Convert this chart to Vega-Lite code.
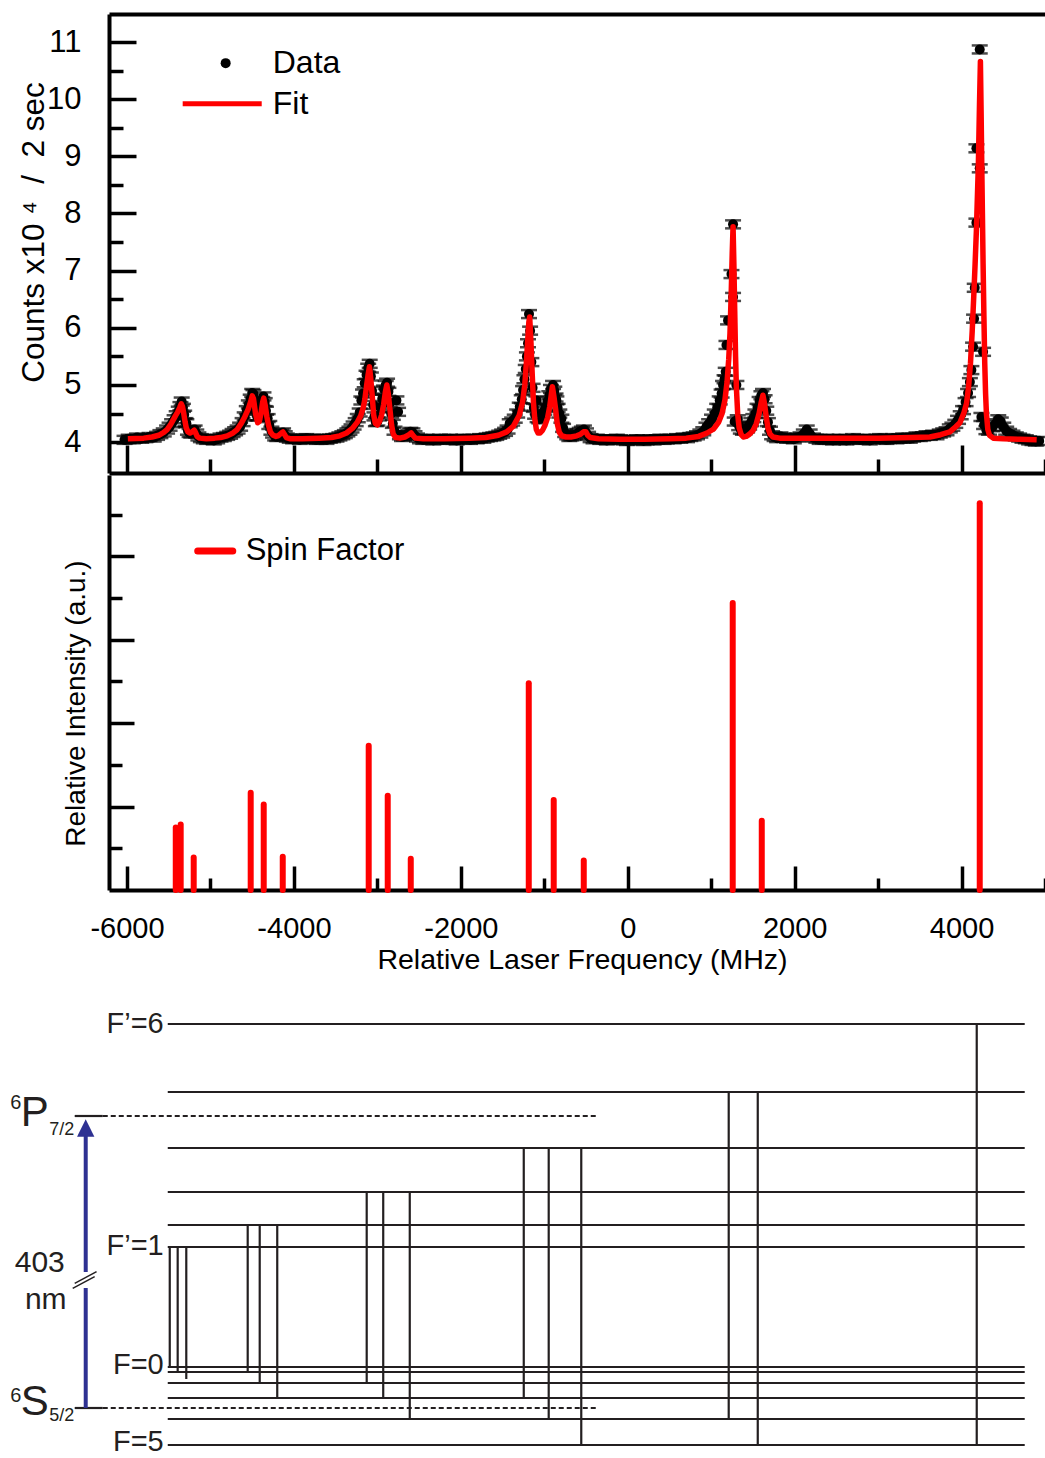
{
"$schema": "https://vega.github.io/schema/vega-lite/v6.json",
"padding": {"left": 10, "top": 14, "right": 0, "bottom": 0},
"config": {"font": "Liberation Sans", "view": {"stroke": null}, "axis": {"domainColor": "black", "tickColor": "black", "labelColor": "black", "titleColor": "black", "grid": false, "titleFontWeight": "normal", "labelFont": "Liberation Sans", "titleFont": "Liberation Sans"}},
"datasets": {
"pts": [
{"x":-6030,"y":4.04,"e":0.07},{"x":-5980,"y":4.06,"e":0.07},{"x":-5930,"y":4.05,"e":0.07},{"x":-5880,"y":4.08,"e":0.07},{"x":-5830,"y":4.06,"e":0.07},{"x":-5780,"y":4.07,"e":0.07},{"x":-5730,"y":4.09,"e":0.07},{"x":-5680,"y":4.08,"e":0.07},{"x":-5640,"y":4.11,"e":0.07},{"x":-5600,"y":4.14,"e":0.07},{"x":-5560,"y":4.17,"e":0.07},{"x":-5520,"y":4.22,"e":0.07},{"x":-5490,"y":4.27,"e":0.07},{"x":-5460,"y":4.33,"e":0.07},{"x":-5430,"y":4.4,"e":0.07},{"x":-5405,"y":4.47,"e":0.07},{"x":-5380,"y":4.55,"e":0.07},{"x":-5360,"y":4.63,"e":0.07},{"x":-5345,"y":4.71,"e":0.07},{"x":-5330,"y":4.6,"e":0.07},{"x":-5315,"y":4.48,"e":0.07},{"x":-5300,"y":4.35,"e":0.07},{"x":-5289,"y":4.33,"e":0.07},{"x":-5270,"y":4.2,"e":0.07},{"x":-5250,"y":4.16,"e":0.07},{"x":-5230,"y":4.15,"e":0.07},{"x":-5210,"y":4.2,"e":0.07},{"x":-5190,"y":4.22,"e":0.07},{"x":-5170,"y":4.15,"e":0.07},{"x":-5145,"y":4.1,"e":0.07},{"x":-5115,"y":4.07,"e":0.07},{"x":-5080,"y":4.05,"e":0.07},{"x":-5040,"y":4.04,"e":0.07},{"x":-5000,"y":4.06,"e":0.07},{"x":-4960,"y":4.03,"e":0.07},{"x":-4920,"y":4.05,"e":0.07},{"x":-4880,"y":4.08,"e":0.07},{"x":-4840,"y":4.09,"e":0.07},{"x":-4800,"y":4.11,"e":0.07},{"x":-4765,"y":4.13,"e":0.07},{"x":-4735,"y":4.16,"e":0.07},{"x":-4705,"y":4.19,"e":0.07},{"x":-4675,"y":4.22,"e":0.07},{"x":-4645,"y":4.27,"e":0.07},{"x":-4615,"y":4.35,"e":0.07},{"x":-4590,"y":4.45,"e":0.07},{"x":-4565,"y":4.56,"e":0.07},{"x":-4540,"y":4.66,"e":0.07},{"x":-4518,"y":4.76,"e":0.07},{"x":-4500,"y":4.86,"e":0.07},{"x":-4485,"y":4.84,"e":0.07},{"x":-4470,"y":4.7,"e":0.07},{"x":-4455,"y":4.55,"e":0.07},{"x":-4440,"y":4.45,"e":0.07},{"x":-4425,"y":4.45,"e":0.07},{"x":-4410,"y":4.52,"e":0.07},{"x":-4395,"y":4.62,"e":0.07},{"x":-4380,"y":4.72,"e":0.07},{"x":-4365,"y":4.8,"e":0.07},{"x":-4350,"y":4.7,"e":0.07},{"x":-4335,"y":4.55,"e":0.07},{"x":-4315,"y":4.42,"e":0.07},{"x":-4295,"y":4.3,"e":0.07},{"x":-4270,"y":4.2,"e":0.07},{"x":-4250,"y":4.15,"e":0.07},{"x":-4225,"y":4.1,"e":0.07},{"x":-4200,"y":4.09,"e":0.07},{"x":-4175,"y":4.11,"e":0.07},{"x":-4150,"y":4.15,"e":0.07},{"x":-4130,"y":4.17,"e":0.07},{"x":-4110,"y":4.12,"e":0.07},{"x":-4085,"y":4.08,"e":0.07},{"x":-4050,"y":4.06,"e":0.07},{"x":-4010,"y":4.05,"e":0.07},{"x":-3970,"y":4.06,"e":0.07},{"x":-3930,"y":4.04,"e":0.07},{"x":-3890,"y":4.06,"e":0.07},{"x":-3850,"y":4.07,"e":0.07},{"x":-3810,"y":4.05,"e":0.07},{"x":-3770,"y":4.06,"e":0.07},{"x":-3730,"y":4.04,"e":0.07},{"x":-3690,"y":4.05,"e":0.07},{"x":-3650,"y":4.06,"e":0.07},{"x":-3610,"y":4.04,"e":0.07},{"x":-3570,"y":4.06,"e":0.07},{"x":-3530,"y":4.07,"e":0.07},{"x":-3490,"y":4.08,"e":0.07},{"x":-3455,"y":4.1,"e":0.07},{"x":-3420,"y":4.12,"e":0.07},{"x":-3390,"y":4.14,"e":0.07},{"x":-3360,"y":4.17,"e":0.07},{"x":-3335,"y":4.2,"e":0.07},{"x":-3310,"y":4.24,"e":0.07},{"x":-3285,"y":4.29,"e":0.07},{"x":-3260,"y":4.35,"e":0.07},{"x":-3235,"y":4.42,"e":0.07},{"x":-3212,"y":4.52,"e":0.07},{"x":-3192,"y":4.73,"e":0.07},{"x":-3172,"y":4.85,"e":0.07},{"x":-3152,"y":5.03,"e":0.07},{"x":-3130,"y":5.18,"e":0.07},{"x":-3110,"y":5.3,"e":0.07},{"x":-3092,"y":5.37,"e":0.07},{"x":-3078,"y":5.15,"e":0.07},{"x":-3064,"y":4.9,"e":0.07},{"x":-3050,"y":4.65,"e":0.07},{"x":-3035,"y":4.45,"e":0.07},{"x":-3018,"y":4.35,"e":0.07},{"x":-3000,"y":4.36,"e":0.07},{"x":-2982,"y":4.45,"e":0.07},{"x":-2962,"y":4.6,"e":0.07},{"x":-2942,"y":4.76,"e":0.07},{"x":-2920,"y":4.92,"e":0.07},{"x":-2900,"y":5.0,"e":0.07},{"x":-2884,"y":5.04,"e":0.07},{"x":-2868,"y":4.88,"e":0.07},{"x":-2852,"y":4.68,"e":0.07},{"x":-2835,"y":4.5,"e":0.07},{"x":-2815,"y":4.32,"e":0.07},{"x":-2795,"y":4.2,"e":0.07},{"x":-2772,"y":4.73,"e":0.07},{"x":-2752,"y":4.53,"e":0.07},{"x":-2730,"y":4.12,"e":0.07},{"x":-2705,"y":4.09,"e":0.07},{"x":-2680,"y":4.1,"e":0.07},{"x":-2655,"y":4.12,"e":0.07},{"x":-2630,"y":4.15,"e":0.07},{"x":-2605,"y":4.18,"e":0.07},{"x":-2580,"y":4.17,"e":0.07},{"x":-2555,"y":4.12,"e":0.07},{"x":-2525,"y":4.08,"e":0.07},{"x":-2490,"y":4.05,"e":0.07},{"x":-2450,"y":4.04,"e":0.07},{"x":-2410,"y":4.06,"e":0.07},{"x":-2370,"y":4.05,"e":0.07},{"x":-2330,"y":4.03,"e":0.07},{"x":-2290,"y":4.05,"e":0.07},{"x":-2250,"y":4.06,"e":0.07},{"x":-2210,"y":4.04,"e":0.07},{"x":-2170,"y":4.05,"e":0.07},{"x":-2130,"y":4.06,"e":0.07},{"x":-2090,"y":4.04,"e":0.07},{"x":-2050,"y":4.03,"e":0.07},{"x":-2010,"y":4.05,"e":0.07},{"x":-1970,"y":4.06,"e":0.07},{"x":-1930,"y":4.05,"e":0.07},{"x":-1890,"y":4.04,"e":0.07},{"x":-1850,"y":4.06,"e":0.07},{"x":-1810,"y":4.05,"e":0.07},{"x":-1770,"y":4.07,"e":0.07},{"x":-1730,"y":4.06,"e":0.07},{"x":-1690,"y":4.08,"e":0.07},{"x":-1650,"y":4.09,"e":0.07},{"x":-1610,"y":4.1,"e":0.07},{"x":-1575,"y":4.11,"e":0.07},{"x":-1540,"y":4.13,"e":0.07},{"x":-1505,"y":4.15,"e":0.07},{"x":-1470,"y":4.18,"e":0.07},{"x":-1440,"y":4.22,"e":0.07},{"x":-1414,"y":4.33,"e":0.07},{"x":-1385,"y":4.36,"e":0.07},{"x":-1354,"y":4.41,"e":0.07},{"x":-1325,"y":4.5,"e":0.07},{"x":-1294,"y":4.62,"e":0.07},{"x":-1270,"y":4.75,"e":0.07},{"x":-1254,"y":4.91,"e":0.07},{"x":-1238,"y":5.1,"e":0.07},{"x":-1222,"y":5.28,"e":0.07},{"x":-1208,"y":5.5,"e":0.07},{"x":-1195,"y":5.73,"e":0.07},{"x":-1183,"y":6.24,"e":0.07},{"x":-1170,"y":5.95,"e":0.07},{"x":-1155,"y":5.4,"e":0.07},{"x":-1140,"y":4.95,"e":0.07},{"x":-1125,"y":4.6,"e":0.07},{"x":-1110,"y":4.48,"e":0.07},{"x":-1094,"y":4.73,"e":0.07},{"x":-1080,"y":4.42,"e":0.07},{"x":-1060,"y":4.4,"e":0.07},{"x":-1040,"y":4.45,"e":0.07},{"x":-1020,"y":4.5,"e":0.07},{"x":-1000,"y":4.55,"e":0.07},{"x":-980,"y":4.62,"e":0.07},{"x":-960,"y":4.72,"e":0.07},{"x":-940,"y":4.82,"e":0.07},{"x":-920,"y":4.93,"e":0.07},{"x":-895,"y":5.0,"e":0.07},{"x":-880,"y":4.9,"e":0.07},{"x":-865,"y":4.78,"e":0.07},{"x":-855,"y":4.73,"e":0.07},{"x":-840,"y":4.6,"e":0.07},{"x":-820,"y":4.5,"e":0.07},{"x":-795,"y":4.41,"e":0.07},{"x":-775,"y":4.25,"e":0.07},{"x":-750,"y":4.16,"e":0.07},{"x":-725,"y":4.12,"e":0.07},{"x":-700,"y":4.09,"e":0.07},{"x":-675,"y":4.1,"e":0.07},{"x":-650,"y":4.11,"e":0.07},{"x":-625,"y":4.13,"e":0.07},{"x":-600,"y":4.15,"e":0.07},{"x":-575,"y":4.18,"e":0.07},{"x":-550,"y":4.2,"e":0.07},{"x":-525,"y":4.22,"e":0.07},{"x":-500,"y":4.17,"e":0.07},{"x":-475,"y":4.11,"e":0.07},{"x":-445,"y":4.07,"e":0.07},{"x":-410,"y":4.05,"e":0.07},{"x":-370,"y":4.06,"e":0.07},{"x":-330,"y":4.04,"e":0.07},{"x":-290,"y":4.05,"e":0.07},{"x":-250,"y":4.03,"e":0.07},{"x":-210,"y":4.05,"e":0.07},{"x":-170,"y":4.04,"e":0.07},{"x":-130,"y":4.06,"e":0.07},{"x":-90,"y":4.05,"e":0.07},{"x":-50,"y":4.03,"e":0.07},{"x":-10,"y":4.02,"e":0.07},{"x":30,"y":4.04,"e":0.07},{"x":70,"y":4.03,"e":0.07},{"x":110,"y":4.05,"e":0.07},{"x":150,"y":4.04,"e":0.07},{"x":190,"y":4.02,"e":0.07},{"x":230,"y":4.04,"e":0.07},{"x":270,"y":4.05,"e":0.07},{"x":310,"y":4.03,"e":0.07},{"x":350,"y":4.05,"e":0.07},{"x":390,"y":4.06,"e":0.07},{"x":430,"y":4.04,"e":0.07},{"x":470,"y":4.05,"e":0.07},{"x":510,"y":4.06,"e":0.07},{"x":550,"y":4.05,"e":0.07},{"x":590,"y":4.07,"e":0.07},{"x":630,"y":4.06,"e":0.07},{"x":670,"y":4.08,"e":0.07},{"x":710,"y":4.07,"e":0.07},{"x":750,"y":4.09,"e":0.07},{"x":790,"y":4.1,"e":0.07},{"x":830,"y":4.12,"e":0.07},{"x":870,"y":4.15,"e":0.07},{"x":905,"y":4.19,"e":0.07},{"x":943,"y":4.27,"e":0.07},{"x":975,"y":4.33,"e":0.07},{"x":1010,"y":4.41,"e":0.07},{"x":1043,"y":4.5,"e":0.07},{"x":1072,"y":4.6,"e":0.07},{"x":1102,"y":4.73,"e":0.07},{"x":1125,"y":4.85,"e":0.07},{"x":1142,"y":5.0,"e":0.07},{"x":1160,"y":5.1,"e":0.07},{"x":1174,"y":5.23,"e":0.07},{"x":1183,"y":5.7,"e":0.07},{"x":1202,"y":6.13,"e":0.07},{"x":1243,"y":6.94,"e":0.07},{"x":1262,"y":7.81,"e":0.07},{"x":1262,"y":6.54,"e":0.07},{"x":1282,"y":4.36,"e":0.07},{"x":1302,"y":5.0,"e":0.07},{"x":1318,"y":4.4,"e":0.07},{"x":1335,"y":4.28,"e":0.07},{"x":1355,"y":4.22,"e":0.07},{"x":1380,"y":4.2,"e":0.07},{"x":1405,"y":4.21,"e":0.07},{"x":1430,"y":4.24,"e":0.07},{"x":1455,"y":4.29,"e":0.07},{"x":1480,"y":4.35,"e":0.07},{"x":1505,"y":4.42,"e":0.07},{"x":1530,"y":4.5,"e":0.07},{"x":1555,"y":4.6,"e":0.07},{"x":1580,"y":4.72,"e":0.07},{"x":1602,"y":4.82,"e":0.07},{"x":1621,"y":4.86,"e":0.07},{"x":1640,"y":4.75,"e":0.07},{"x":1660,"y":4.55,"e":0.07},{"x":1680,"y":4.35,"e":0.07},{"x":1705,"y":4.2,"e":0.07},{"x":1730,"y":4.12,"e":0.07},{"x":1760,"y":4.09,"e":0.07},{"x":1790,"y":4.07,"e":0.07},{"x":1830,"y":4.1,"e":0.07},{"x":1870,"y":4.08,"e":0.07},{"x":1910,"y":4.06,"e":0.07},{"x":1950,"y":4.07,"e":0.07},{"x":1990,"y":4.05,"e":0.07},{"x":2030,"y":4.08,"e":0.07},{"x":2070,"y":4.1,"e":0.07},{"x":2110,"y":4.15,"e":0.07},{"x":2145,"y":4.22,"e":0.07},{"x":2180,"y":4.15,"e":0.07},{"x":2220,"y":4.08,"e":0.07},{"x":2260,"y":4.06,"e":0.07},{"x":2300,"y":4.04,"e":0.07},{"x":2340,"y":4.05,"e":0.07},{"x":2380,"y":4.06,"e":0.07},{"x":2420,"y":4.04,"e":0.07},{"x":2460,"y":4.03,"e":0.07},{"x":2500,"y":4.05,"e":0.07},{"x":2540,"y":4.06,"e":0.07},{"x":2580,"y":4.04,"e":0.07},{"x":2620,"y":4.03,"e":0.07},{"x":2660,"y":4.05,"e":0.07},{"x":2700,"y":4.07,"e":0.07},{"x":2740,"y":4.05,"e":0.07},{"x":2780,"y":4.04,"e":0.07},{"x":2820,"y":4.06,"e":0.07},{"x":2860,"y":4.05,"e":0.07},{"x":2900,"y":4.03,"e":0.07},{"x":2940,"y":4.05,"e":0.07},{"x":2980,"y":4.06,"e":0.07},{"x":3020,"y":4.07,"e":0.07},{"x":3060,"y":4.05,"e":0.07},{"x":3100,"y":4.04,"e":0.07},{"x":3140,"y":4.06,"e":0.07},{"x":3180,"y":4.07,"e":0.07},{"x":3220,"y":4.05,"e":0.07},{"x":3260,"y":4.06,"e":0.07},{"x":3300,"y":4.08,"e":0.07},{"x":3340,"y":4.07,"e":0.07},{"x":3380,"y":4.06,"e":0.07},{"x":3420,"y":4.08,"e":0.07},{"x":3460,"y":4.1,"e":0.07},{"x":3500,"y":4.09,"e":0.07},{"x":3540,"y":4.1,"e":0.07},{"x":3580,"y":4.12,"e":0.07},{"x":3620,"y":4.11,"e":0.07},{"x":3660,"y":4.13,"e":0.07},{"x":3700,"y":4.12,"e":0.07},{"x":3739,"y":4.15,"e":0.07},{"x":3780,"y":4.17,"e":0.07},{"x":3820,"y":4.19,"e":0.07},{"x":3859,"y":4.24,"e":0.07},{"x":3890,"y":4.27,"e":0.07},{"x":3925,"y":4.32,"e":0.07},{"x":3958,"y":4.39,"e":0.07},{"x":3990,"y":4.47,"e":0.07},{"x":4018,"y":4.56,"e":0.07},{"x":4048,"y":4.7,"e":0.07},{"x":4078,"y":4.86,"e":0.07},{"x":4100,"y":5.05,"e":0.07},{"x":4118,"y":5.26,"e":0.07},{"x":4138,"y":5.67,"e":0.07},{"x":4150,"y":6.16,"e":0.07},{"x":4158,"y":6.7,"e":0.07},{"x":4178,"y":7.84,"e":0.07},{"x":4178,"y":9.14,"e":0.07},{"x":4218,"y":10.87,"e":0.07},{"x":4218,"y":8.79,"e":0.07},{"x":4258,"y":5.58,"e":0.07},{"x":4238,"y":4.44,"e":0.07},{"x":4270,"y":4.3,"e":0.07},{"x":4298,"y":4.21,"e":0.07},{"x":4330,"y":4.2,"e":0.07},{"x":4370,"y":4.26,"e":0.07},{"x":4410,"y":4.33,"e":0.07},{"x":4440,"y":4.4,"e":0.07},{"x":4470,"y":4.36,"e":0.07},{"x":4500,"y":4.27,"e":0.07},{"x":4535,"y":4.2,"e":0.07},{"x":4570,"y":4.16,"e":0.07},{"x":4610,"y":4.13,"e":0.07},{"x":4650,"y":4.1,"e":0.07},{"x":4690,"y":4.08,"e":0.07},{"x":4730,"y":4.06,"e":0.07},{"x":4770,"y":4.05,"e":0.07},{"x":4810,"y":4.03,"e":0.07},{"x":4850,"y":4.02,"e":0.07},{"x":4890,"y":4.01,"e":0.07},{"x":4930,"y":4.02,"e":0.07}
],
"fit": [
{"x":-5990,"y":4.06},{"x":-5800,"y":4.07},{"x":-5700,"y":4.09},{"x":-5620,"y":4.12},{"x":-5560,"y":4.17},{"x":-5520,"y":4.22},{"x":-5480,"y":4.3},{"x":-5450,"y":4.38},{"x":-5420,"y":4.46},{"x":-5395,"y":4.52},{"x":-5370,"y":4.6},{"x":-5350,"y":4.67},{"x":-5335,"y":4.62},{"x":-5320,"y":4.5},{"x":-5305,"y":4.36},{"x":-5290,"y":4.25},{"x":-5270,"y":4.18},{"x":-5245,"y":4.16},{"x":-5220,"y":4.18},{"x":-5195,"y":4.21},{"x":-5180,"y":4.17},{"x":-5160,"y":4.1},{"x":-5130,"y":4.07},{"x":-5050,"y":4.06},{"x":-4950,"y":4.07},{"x":-4880,"y":4.08},{"x":-4800,"y":4.11},{"x":-4730,"y":4.16},{"x":-4680,"y":4.22},{"x":-4630,"y":4.33},{"x":-4590,"y":4.44},{"x":-4550,"y":4.57},{"x":-4520,"y":4.7},{"x":-4500,"y":4.81},{"x":-4485,"y":4.76},{"x":-4460,"y":4.5},{"x":-4435,"y":4.34},{"x":-4415,"y":4.36},{"x":-4395,"y":4.5},{"x":-4375,"y":4.7},{"x":-4362,"y":4.77},{"x":-4345,"y":4.65},{"x":-4325,"y":4.45},{"x":-4305,"y":4.3},{"x":-4280,"y":4.17},{"x":-4250,"y":4.12},{"x":-4215,"y":4.1},{"x":-4190,"y":4.11},{"x":-4150,"y":4.16},{"x":-4132,"y":4.18},{"x":-4115,"y":4.14},{"x":-4090,"y":4.08},{"x":-4050,"y":4.06},{"x":-3900,"y":4.06},{"x":-3700,"y":4.07},{"x":-3550,"y":4.08},{"x":-3450,"y":4.11},{"x":-3370,"y":4.16},{"x":-3300,"y":4.24},{"x":-3240,"y":4.35},{"x":-3200,"y":4.46},{"x":-3170,"y":4.6},{"x":-3150,"y":4.75},{"x":-3130,"y":4.98},{"x":-3112,"y":5.17},{"x":-3095,"y":5.32},{"x":-3080,"y":5.12},{"x":-3064,"y":4.85},{"x":-3045,"y":4.48},{"x":-3025,"y":4.33},{"x":-3000,"y":4.3},{"x":-2975,"y":4.36},{"x":-2950,"y":4.47},{"x":-2925,"y":4.66},{"x":-2905,"y":4.87},{"x":-2887,"y":5.0},{"x":-2870,"y":4.85},{"x":-2850,"y":4.58},{"x":-2830,"y":4.3},{"x":-2810,"y":4.14},{"x":-2780,"y":4.08},{"x":-2730,"y":4.07},{"x":-2670,"y":4.09},{"x":-2620,"y":4.13},{"x":-2595,"y":4.16},{"x":-2575,"y":4.12},{"x":-2545,"y":4.07},{"x":-2450,"y":4.06},{"x":-2200,"y":4.06},{"x":-1900,"y":4.07},{"x":-1700,"y":4.08},{"x":-1550,"y":4.12},{"x":-1450,"y":4.18},{"x":-1370,"y":4.28},{"x":-1300,"y":4.47},{"x":-1260,"y":4.7},{"x":-1234,"y":5.0},{"x":-1215,"y":5.38},{"x":-1200,"y":5.75},{"x":-1185,"y":6.1},{"x":-1175,"y":6.19},{"x":-1160,"y":5.75},{"x":-1145,"y":5.2},{"x":-1130,"y":4.7},{"x":-1115,"y":4.42},{"x":-1095,"y":4.22},{"x":-1075,"y":4.16},{"x":-1050,"y":4.16},{"x":-1020,"y":4.21},{"x":-990,"y":4.3},{"x":-960,"y":4.43},{"x":-935,"y":4.62},{"x":-915,"y":4.84},{"x":-903,"y":4.97},{"x":-885,"y":4.8},{"x":-865,"y":4.58},{"x":-845,"y":4.33},{"x":-820,"y":4.17},{"x":-790,"y":4.11},{"x":-740,"y":4.09},{"x":-680,"y":4.09},{"x":-610,"y":4.11},{"x":-565,"y":4.14},{"x":-530,"y":4.18},{"x":-500,"y":4.18},{"x":-480,"y":4.12},{"x":-450,"y":4.08},{"x":-350,"y":4.06},{"x":-100,"y":4.05},{"x":200,"y":4.05},{"x":500,"y":4.06},{"x":700,"y":4.07},{"x":850,"y":4.1},{"x":950,"y":4.16},{"x":1030,"y":4.23},{"x":1090,"y":4.35},{"x":1130,"y":4.5},{"x":1165,"y":4.74},{"x":1190,"y":5.05},{"x":1210,"y":5.45},{"x":1225,"y":5.9},{"x":1240,"y":6.6},{"x":1252,"y":7.3},{"x":1262,"y":7.77},{"x":1272,"y":7.1},{"x":1282,"y":6.3},{"x":1292,"y":5.5},{"x":1302,"y":4.95},{"x":1318,"y":4.48},{"x":1335,"y":4.25},{"x":1360,"y":4.13},{"x":1385,"y":4.09},{"x":1420,"y":4.1},{"x":1460,"y":4.14},{"x":1500,"y":4.2},{"x":1540,"y":4.32},{"x":1574,"y":4.5},{"x":1600,"y":4.7},{"x":1620,"y":4.82},{"x":1638,"y":4.68},{"x":1656,"y":4.48},{"x":1680,"y":4.25},{"x":1705,"y":4.14},{"x":1740,"y":4.09},{"x":1820,"y":4.07},{"x":2100,"y":4.07},{"x":2600,"y":4.07},{"x":3000,"y":4.07},{"x":3400,"y":4.08},{"x":3620,"y":4.09},{"x":3750,"y":4.13},{"x":3860,"y":4.18},{"x":3930,"y":4.27},{"x":3980,"y":4.34},{"x":4030,"y":4.52},{"x":4060,"y":4.68},{"x":4085,"y":4.98},{"x":4107,"y":5.38},{"x":4128,"y":5.95},{"x":4146,"y":6.54},{"x":4162,"y":7.1},{"x":4178,"y":7.71},{"x":4202,"y":8.88},{"x":4215,"y":9.9},{"x":4226,"y":10.66},{"x":4235,"y":9.7},{"x":4242,"y":8.88},{"x":4250,"y":8.0},{"x":4258,"y":7.13},{"x":4268,"y":6.2},{"x":4278,"y":5.38},{"x":4288,"y":4.85},{"x":4298,"y":4.5},{"x":4315,"y":4.22},{"x":4335,"y":4.12},{"x":4380,"y":4.07},{"x":4500,"y":4.06},{"x":4700,"y":4.05},{"x":4900,"y":4.04}
],
"sticks": [
{"x":-5416,"v":1.5},{"x":-5357,"v":1.57},{"x":-5201,"v":0.78},{"x":-4518,"v":2.33},{"x":-4362,"v":2.05},{"x":-4134,"v":0.8},{"x":-3104,"v":3.46},{"x":-2876,"v":2.26},{"x":-2600,"v":0.75},{"x":-1186,"v":4.96},{"x":-887,"v":2.16},{"x":-527,"v":0.71},{"x":1258,"v":6.88},{"x":1606,"v":1.66},{"x":4218,"v":9.27}
],
"levels": [
{"level":"F'=6","y":43.4},{"level":"F'=5","y":36.6},{"level":"F'=4","y":31.0},{"level":"F'=3","y":26.6},{"level":"F'=2","y":23.3},{"level":"F'=1","y":21.1},
{"level":"F=0","y":9.1},{"level":"F=1","y":8.6},{"level":"F=2","y":7.5},{"level":"F=3","y":6.0},{"level":"F=4","y":3.9},{"level":"F=5","y":1.3}
],
"trans": [
{"x":-5488,"y1":21.1,"y2":9.1},{"x":-5393,"y1":21.1,"y2":8.6},{"x":-5290,"y1":21.1,"y2":7.9},
{"x":-4554,"y1":23.3,"y2":8.6},{"x":-4410,"y1":23.3,"y2":7.5},{"x":-4200,"y1":23.3,"y2":6.0},
{"x":-3128,"y1":26.6,"y2":7.5},{"x":-2930,"y1":26.6,"y2":6.0},{"x":-2612,"y1":26.6,"y2":3.9},
{"x":-1246,"y1":31.0,"y2":6.0},{"x":-947,"y1":31.0,"y2":3.9},{"x":-557,"y1":31.0,"y2":1.3},
{"x":1210,"y1":36.6,"y2":3.9},{"x":1558,"y1":36.6,"y2":1.3},
{"x":4182,"y1":43.4,"y2":1.3}
],
"terms": [{"term":"6P7/2","y":34.2},{"term":"6S5/2","y":5.0}]
},
"vconcat": [
{
"spacing": 0,
"vconcat": [
{
"width": 936, "height": 459,
"layer": [
{"data": {"name": "pts"}, "mark": {"type": "errorbar", "color": "black", "ticks": {"size": 16, "thickness": 2.5, "color": "black"}, "rule": {"strokeWidth": 2, "color": "black"}},
 "encoding": {"x": {"field": "x", "type": "quantitative", "scale": {"domain": [-6216, 5000], "nice": false, "zero": false}, "axis": null},
  "y": {"field": "y", "type": "quantitative", "scale": {"domain": [3.46, 11.49], "nice": false, "zero": false}, "axis": null},
  "yError": {"field": "e"}}},
{"data": {"name": "pts"}, "mark": {"type": "point", "filled": true, "size": 100, "color": "black", "opacity": 1},
 "encoding": {"x": {"field": "x", "type": "quantitative", "scale": {"domain": [-6216, 5000], "nice": false, "zero": false}, "axis": {"orient": "bottom", "values": [-5000, -3000, -1000, 1000, 3000, 5000], "tickSize": -14, "tickWidth": 3.5, "labels": false, "domain": false, "title": null}},
  "y": {"field": "y", "type": "quantitative", "scale": {"domain": [3.46, 11.49], "nice": false, "zero": false}, "axis": {"orient": "left", "values": [4.5, 5.5, 6.5, 7.5, 8.5, 9.5, 10.5], "tickSize": -14, "tickWidth": 3.5, "labels": false, "domain": false, "title": null}}}},
{"data": {"name": "fit"}, "mark": {"type": "line", "color": "#ff0000", "strokeWidth": 5.5, "strokeJoin": "round"},
 "encoding": {"x": {"field": "x", "type": "quantitative", "scale": {"domain": [-6216, 5000], "nice": false, "zero": false}, "axis": {"orient": "bottom", "values": [-6000, -4000, -2000, 0, 2000, 4000], "tickSize": -28, "tickWidth": 3.5, "labels": false, "domain": true, "domainWidth": 4, "title": null}},
  "y": {"field": "y", "type": "quantitative", "scale": {"domain": [3.46, 11.49], "nice": false, "zero": false}, "axis": {"orient": "left", "values": [4, 5, 6, 7, 8, 9, 10, 11], "format": "d", "tickSize": -27, "tickWidth": 3.5, "domain": true, "domainWidth": 4, "labelFontSize": 31, "labelPadding": 55, "title": "Counts x10\u00a0⁴\u00a0\u00a0/\u00a0\u00a02 sec", "titleFontSize": 31.5, "titleX": -75, "titleY": 218, "titleBaseline": "middle"}}}},
{"data": {"values": [{}]}, "mark": {"type": "point", "filled": true, "size": 100, "color": "black", "opacity": 1},
 "encoding": {"x": {"datum": -4818, "type": "quantitative", "scale": {"domain": [-6216, 5000], "nice": false, "zero": false}, "axis": {"orient": "top", "ticks": false, "labels": false, "domain": true, "domainWidth": 4, "title": null}},
  "y": {"datum": 10.63, "type": "quantitative", "scale": {"domain": [3.46, 11.49], "nice": false, "zero": false}, "axis": null}}},
{"data": {"values": [{}]}, "mark": {"type": "rule", "color": "#ff0000", "strokeWidth": 5},
 "encoding": {"x": {"datum": -5333, "type": "quantitative", "scale": {"domain": [-6216, 5000], "nice": false, "zero": false}, "axis": null}, "x2": {"datum": -4386},
  "y": {"datum": 9.92, "type": "quantitative", "scale": {"domain": [3.46, 11.49], "nice": false, "zero": false}, "axis": null}}},
{"data": {"values": [{"label": "Data", "y": 10.63}, {"label": "Fit", "y": 9.92}]}, "mark": {"type": "text", "align": "left", "baseline": "middle", "fontSize": 32, "color": "black"},
 "encoding": {"x": {"datum": -4254, "type": "quantitative", "scale": {"domain": [-6216, 5000], "nice": false, "zero": false}, "axis": null},
  "y": {"field": "y", "type": "quantitative", "scale": {"domain": [3.46, 11.49], "nice": false, "zero": false}, "axis": null},
  "text": {"field": "label"}}}
],
"resolve": {"axis": {"x": "independent", "y": "independent"}}
},
{
"width": 936, "height": 415,
"layer": [
{"data": {"name": "sticks"}, "mark": {"type": "rule", "color": "#ff0000", "strokeWidth": 6, "strokeCap": "round"},
 "encoding": {"x": {"field": "x", "type": "quantitative", "scale": {"domain": [-6216, 5000], "nice": false, "zero": false}, "axis": {"orient": "bottom", "values": [-6000, -4000, -2000, 0, 2000, 4000], "labelExpr": "'' + datum.value", "tickSize": -24, "tickWidth": 3.5, "domain": true, "domainWidth": 4, "labelFontSize": 29, "labelPadding": 48, "title": "Relative Laser Frequency (MHz)", "titleFontSize": 28.5, "titleX": 473, "titleY": 78, "titleBaseline": "alphabetic"}},
  "y": {"field": "v", "type": "quantitative", "scale": {"domain": [0, 9.95], "nice": false, "zero": false}, "axis": {"orient": "left", "values": [2, 4, 6, 8], "tickSize": -25, "tickWidth": 3.5, "domain": true, "domainWidth": 4, "labels": false, "title": "Relative Intensity (a.u.)", "titleFontSize": 28, "titleX": -33, "titleY": 228, "titleBaseline": "middle"}},
  "y2": {"datum": 0}}},
{"data": {"values": [{}]}, "mark": {"type": "rule", "color": "#ff0000", "strokeWidth": 7, "strokeCap": "round"},
 "encoding": {"x": {"datum": -5153, "type": "quantitative", "scale": {"domain": [-6216, 5000], "nice": false, "zero": false}, "axis": {"orient": "bottom", "values": [-5000, -3000, -1000, 1000, 3000, 5000], "tickSize": -12, "tickWidth": 3.5, "labels": false, "domain": false, "title": null}}, "x2": {"datum": -4733},
  "y": {"datum": 8.13, "type": "quantitative", "scale": {"domain": [0, 9.95], "nice": false, "zero": false}, "axis": {"orient": "left", "values": [1, 3, 5, 7, 9], "tickSize": -13, "tickWidth": 3.5, "labels": false, "domain": false, "title": null}}}},
{"data": {"values": [{"label": "Spin Factor"}]}, "mark": {"type": "text", "align": "left", "baseline": "middle", "fontSize": 31, "color": "black"},
 "encoding": {"x": {"datum": -4578, "type": "quantitative", "scale": {"domain": [-6216, 5000], "nice": false, "zero": false}, "axis": null},
  "y": {"datum": 8.13, "type": "quantitative", "scale": {"domain": [0, 9.95], "nice": false, "zero": false}, "axis": null},
  "text": {"field": "label"}}}
],
"resolve": {"axis": {"x": "independent", "y": "independent"}}
}
]
},
{
"width": 936, "height": 458,
"layer": [
{"data": {"name": "levels"}, "mark": {"type": "rule", "color": "#231f20", "strokeWidth": 2.2},
 "encoding": {"x": {"datum": -5512, "type": "quantitative", "scale": {"domain": [-6216, 5000], "nice": false, "zero": false}, "axis": null}, "x2": {"datum": 4757},
  "y": {"field": "y", "type": "quantitative", "scale": {"domain": [0, 45.8], "nice": false, "zero": false}, "axis": null}}},
{"data": {"name": "trans"}, "mark": {"type": "rule", "color": "#231f20", "strokeWidth": 2.2},
 "encoding": {"x": {"field": "x", "type": "quantitative", "scale": {"domain": [-6216, 5000], "nice": false, "zero": false}, "axis": null},
  "y": {"field": "y1", "type": "quantitative", "scale": {"domain": [0, 45.8], "nice": false, "zero": false}, "axis": null}, "y2": {"field": "y2"}}},
{"data": {"name": "terms"}, "mark": {"type": "rule", "color": "#231f20", "strokeWidth": 2, "strokeDash": [5, 3]},
 "encoding": {"x": {"datum": -6291, "type": "quantitative", "scale": {"domain": [-6216, 5000], "nice": false, "zero": false}, "axis": null}, "x2": {"datum": -360},
  "y": {"field": "y", "type": "quantitative", "scale": {"domain": [0, 45.8], "nice": false, "zero": false}, "axis": null}}},
{"data": {"name": "terms"}, "mark": {"type": "rule", "color": "#231f20", "strokeWidth": 2.2},
 "encoding": {"x": {"datum": -6627, "type": "quantitative", "scale": {"domain": [-6216, 5000], "nice": false, "zero": false}, "axis": null}, "x2": {"datum": -6291},
  "y": {"field": "y", "type": "quantitative", "scale": {"domain": [0, 45.8], "nice": false, "zero": false}, "axis": null}}},
{"data": {"values": [{"y1": 5.0, "y2": 17.0}, {"y1": 18.6, "y2": 32.3}]}, "mark": {"type": "rule", "color": "#2e3192", "strokeWidth": 4},
 "encoding": {"x": {"datum": -6495, "type": "quantitative", "scale": {"domain": [-6216, 5000], "nice": false, "zero": false}, "axis": null},
  "y": {"field": "y1", "type": "quantitative", "scale": {"domain": [0, 45.8], "nice": false, "zero": false}, "axis": null}, "y2": {"field": "y2"}}},
{"data": {"values": [{}]}, "mark": {"type": "point", "shape": "M-1,1L1,1L0,-1Z", "filled": true, "size": 300, "color": "#2e3192", "opacity": 1},
 "encoding": {"x": {"datum": -6495, "type": "quantitative", "scale": {"domain": [-6216, 5000], "nice": false, "zero": false}, "axis": null},
  "y": {"datum": 33.0, "type": "quantitative", "scale": {"domain": [0, 45.8], "nice": false, "zero": false}, "axis": null}}},
{"data": {"values": [{"x1": -6627, "y1": 17.47, "x2": -6365, "y2": 18.63}, {"x1": -6651, "y1": 16.97, "x2": -6388, "y2": 18.13}]}, "mark": {"type": "rule", "color": "#231f20", "strokeWidth": 1.5},
 "encoding": {"x": {"field": "x1", "type": "quantitative", "scale": {"domain": [-6216, 5000], "nice": false, "zero": false}, "axis": null}, "x2": {"field": "x2"},
  "y": {"field": "y1", "type": "quantitative", "scale": {"domain": [0, 45.8], "nice": false, "zero": false}, "axis": null}, "y2": {"field": "y2"}}},
{"data": {"values": [{"t": "F’=6", "y": 43.4}, {"t": "F’=1", "y": 21.2}, {"t": "F=0", "y": 9.3}, {"t": "F=5", "y": 1.6}]}, "mark": {"type": "text", "align": "right", "baseline": "middle", "fontSize": 29, "color": "#231f20"},
 "encoding": {"x": {"datum": -5560, "type": "quantitative", "scale": {"domain": [-6216, 5000], "nice": false, "zero": false}, "axis": null},
  "y": {"field": "y", "type": "quantitative", "scale": {"domain": [0, 45.8], "nice": false, "zero": false}, "axis": null}, "text": {"field": "t"}}},
{"data": {"values": [{"t": "403", "x": -7046, "y": 19.5}, {"t": "nm", "x": -6974, "y": 15.8}]}, "mark": {"type": "text", "align": "center", "baseline": "middle", "fontSize": 30, "color": "#231f20"},
 "encoding": {"x": {"field": "x", "type": "quantitative", "scale": {"domain": [-6216, 5000], "nice": false, "zero": false}, "axis": null},
  "y": {"field": "y", "type": "quantitative", "scale": {"domain": [0, 45.8], "nice": false, "zero": false}, "axis": null}, "text": {"field": "t"}}},
{"data": {"values": [{"t": "P", "y": 34.5}, {"t": "S", "y": 5.6}]}, "mark": {"type": "text", "align": "center", "baseline": "middle", "fontSize": 42, "color": "#231f20"},
 "encoding": {"x": {"datum": -7106, "type": "quantitative", "scale": {"domain": [-6216, 5000], "nice": false, "zero": false}, "axis": null},
  "y": {"field": "y", "type": "quantitative", "scale": {"domain": [0, 45.8], "nice": false, "zero": false}, "axis": null}, "text": {"field": "t"}}},
{"data": {"values": [{"t": "6", "y": 35.5}, {"t": "6", "y": 6.2}]}, "mark": {"type": "text", "align": "center", "baseline": "middle", "fontSize": 20, "color": "#231f20"},
 "encoding": {"x": {"datum": -7334, "type": "quantitative", "scale": {"domain": [-6216, 5000], "nice": false, "zero": false}, "axis": null},
  "y": {"field": "y", "type": "quantitative", "scale": {"domain": [0, 45.8], "nice": false, "zero": false}, "axis": null}, "text": {"field": "t"}}},
{"data": {"values": [{"t": "7/2", "y": 32.8}, {"t": "5/2", "y": 4.2}]}, "mark": {"type": "text", "align": "center", "baseline": "middle", "fontSize": 18, "color": "#231f20"},
 "encoding": {"x": {"datum": -6783, "type": "quantitative", "scale": {"domain": [-6216, 5000], "nice": false, "zero": false}, "axis": null},
  "y": {"field": "y", "type": "quantitative", "scale": {"domain": [0, 45.8], "nice": false, "zero": false}, "axis": null}, "text": {"field": "t"}}}
]
}
],
"spacing": 26
}
